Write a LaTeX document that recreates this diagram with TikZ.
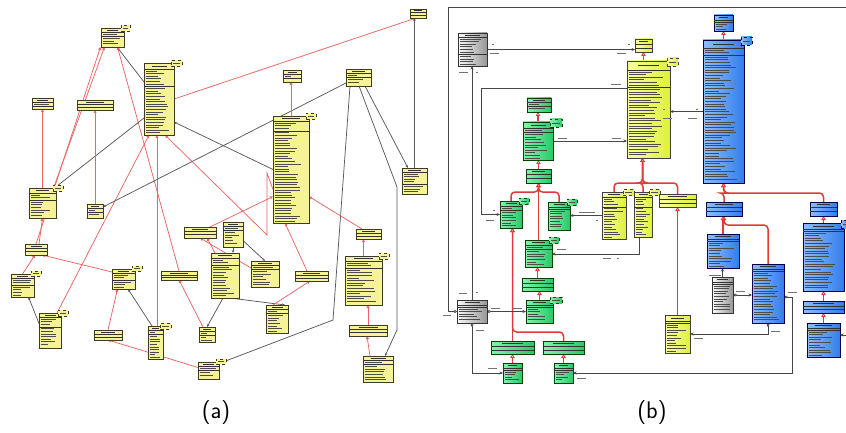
\documentclass[tikz,border=0pt]{standalone}
\usetikzlibrary{arrows.meta,calc}
\pgfdeclarelayer{back}
\pgfdeclarelayer{lines}
\pgfsetlayers{back,lines,main}
\definecolor{ayel}{RGB}{246,242,150}
\definecolor{aedge}{RGB}{60,60,35}
\definecolor{ared}{RGB}{236,100,100}
\definecolor{agray}{RGB}{90,90,90}
\definecolor{bred}{RGB}{226,58,58}
\definecolor{bgray}{RGB}{70,70,70}
\definecolor{yel1}{RGB}{250,255,160}
\definecolor{yel2}{RGB}{222,240,60}
\definecolor{grn1}{RGB}{130,245,170}
\definecolor{grn2}{RGB}{40,200,105}
\definecolor{blu1}{RGB}{140,190,255}
\definecolor{blu2}{RGB}{50,125,235}
\definecolor{gry1}{RGB}{250,250,250}
\definecolor{gry2}{RGB}{150,150,150}
\tikzset{
 cbox/.style={draw, inner sep=0pt, outer sep=0pt, line width=0.8pt},
 ya/.style={fill=ayel, draw=aedge},
 yb/.style={left color=yel1, right color=yel2, draw=black!75},
 gb/.style={left color=grn1, right color=grn2, draw=black!75!green},
 bb/.style={left color=blu1, right color=blu2, draw=black!70!blue},
 kb/.style={left color=gry1, right color=gry2, draw=black!80},
 sepl/.style={line width=0.5pt, draw=black!80},
 txt/.style={line width=0.6pt, draw=black!70},
 hdr/.style={line width=0.9pt, draw=black!80},
 lblm/.style={line width=0.6pt, draw=black!55},
 ar/.style={draw=ared, line width=0.75pt, -{Triangle[open,length=3pt,width=3pt]}},
 ag/.style={draw=agray, line width=0.75pt, -{Stealth[length=3pt,width=2.4pt]}},
 br/.style={draw=bred, line width=1.5pt, rounded corners=4pt, -{Triangle[open,length=4pt,width=4.5pt,line width=0.8pt]}},
 bgr/.style={draw=bgray, line width=0.7pt, -{Stealth[length=3.5pt,width=3pt]}},
 dia/.style={draw=bgray, line width=0.7pt, {Diamond[open,length=4pt,width=3pt]}-{Stealth[length=3.5pt,width=3pt]}}
}
\newcommand\cls[8]{%
 \node[cbox,#2,minimum width=#5pt,minimum height=#6pt,anchor=north west] (#1) at (#3,#4) {};
 \ifnum#8<0 \pgfmathsetmacro\clae{#7+(#6-#7)/2}\else\pgfmathsetmacro\clae{#7+#8*2.6+2}\fi
 \draw[sepl] ($(#1.north west)+(0,#7)$) -- ($(#1.north east)+(0,#7)$);
 \draw[sepl] ($(#1.north west)+(0,\clae)$) -- ($(#1.north east)+(0,\clae)$);
 \draw[hdr] ($(#1.north)+(-#5*0.25,#7*0.5)$) -- ++(#5*0.5,0);
 \ifnum#8>0
  \foreach \k in {1,...,#8}{\pgfmathsetmacro\clL{#5*(0.35+0.45*rnd)}\draw[txt] ($(#1.north west)+(1.5,#7+\k*2.6-0.7)$) -- ++(\clL,0);}
 \fi
 \ifnum#8<0 \else
  \pgfmathtruncatemacro\clno{(#6-\clae-1)/2.6}%
  \ifnum\clno>0
   \foreach \k in {1,...,\clno}{\pgfmathsetmacro\clL{#5*(0.35+0.45*rnd)}\draw[txt] ($(#1.north west)+(1.5,\clae+\k*2.6-0.7)$) -- ++(\clL,0);}
  \fi
 \fi
}
\newcommand\tabx[4]{%
 \node[cbox,#2,dashed,line width=0.5pt,minimum width=#3pt,minimum height=#4pt,anchor=north west] (#1t) at ($(#1.north east)+(-3,-3)$) {};
 \draw[txt,line width=0.4pt] ($(#1t.center)+(-#3*0.3,0)$) -- ++(#3*0.6,0);
}
\newcommand\lbl[3]{\draw[lblm] (#1,#2) -- ++(#3,0);}
\begin{document}
\begin{tikzpicture}[x=1pt,y=-1pt]
\pgfmathsetseed{11}
\useasboundingbox (0,0) rectangle (846,433);
\begin{pgfonlayer}{back}\fill[white] (0,0) rectangle (846,433);\end{pgfonlayer}
% ---------------- (a) ----------------
\cls{a1}{ya}{410}{9}{16}{9}{3}{-1}
\cls{a2}{ya}{101}{28}{23}{19}{4}{1} \tabx{a2}{ya}{9}{6}
\cls{a3}{ya}{144}{63}{30}{72}{6}{6} \tabx{a3}{ya}{11}{6}
\cls{a4}{ya}{283}{70}{18}{12}{4}{1}
\cls{a5}{ya}{346}{69}{25}{17}{4}{1}
\cls{a6}{ya}{32}{98}{21}{11}{4}{1}
\cls{a7}{ya}{77}{100}{36}{10}{4}{-1}
\cls{a8}{ya}{273}{116}{36}{107}{5}{3} \tabx{a8}{ya}{10}{6}
\cls{a9}{ya}{402}{168}{25}{26}{4}{4}
\cls{a10}{ya}{29}{188}{27}{30}{5}{2} \tabx{a10}{ya}{10}{6}
\cls{a11}{ya}{87}{204}{16}{14}{4}{1}
\cls{a12}{ya}{184}{227}{32}{11}{4}{-1}
\cls{a13}{ya}{223}{222}{20}{25}{4}{1}
\cls{a14}{ya}{25}{244}{22}{11}{4}{-1}
\cls{a15}{ya}{211}{253}{28}{45}{5}{2}
\cls{a16}{ya}{251}{261}{28}{26}{4}{1}
\cls{a17}{ya}{356}{229}{25}{10}{4}{-1}
\cls{a18}{ya}{345}{256}{37}{49}{5}{2} \tabx{a18}{ya}{10}{6}
\cls{a19}{ya}{11}{274}{23}{23}{4}{2} \tabx{a19}{ya}{10}{5}
\cls{a20}{ya}{112}{269}{23}{20}{4}{2} \tabx{a20}{ya}{10}{5}
\cls{a21}{ya}{161}{271}{36}{9}{4}{-1}
\cls{a22}{ya}{295}{271}{33}{10}{4}{-1}
\cls{a23}{ya}{266}{305}{22}{28}{4}{1}
\cls{a24}{ya}{39}{313}{22}{35}{4}{3} \tabx{a24}{ya}{10}{6}
\cls{a25}{ya}{94}{330}{28}{10}{4}{-1}
\cls{a26}{ya}{148}{326}{15}{33}{4}{1} \tabx{a26}{ya}{11}{6}
\cls{a27}{ya}{199}{327}{16}{15}{4}{1}
\cls{a28}{ya}{349}{325}{38}{11}{4}{-1}
\cls{a29}{ya}{363}{356}{30}{26}{4}{1}
\cls{a30}{ya}{198}{362}{21}{17}{4}{1} \tabx{a30}{ya}{10}{5}
\coordinate (za) at (267,173);
\coordinate (zb) at (267,235);
\coordinate (zc) at (333,320);
\coordinate (zd) at (397,187);
\coordinate (ze) at (397,330);
\begin{pgfonlayer}{lines}
\draw[ar] (a3.east) -- ([xshift=-2pt]a1.south);
\draw[ag] (a9.north) -- (a9.north |- a1.south);
\draw[ag] ([yshift=17pt]a3.west) -- ([xshift=4.5pt]a2.south);
\draw[ar] (a14.north) -- ([xshift=-12pt]a2.south);
\draw[ar] ([xshift=11pt]a10.north) -- ([xshift=-8pt]a2.south);
\draw[ar] (a21.north) -- ([xshift=5pt]a2.south);
\draw[ar] ([xshift=7pt]a24.north) -- ([xshift=-10pt]a3.south);
\draw[ar] ([xshift=1.5pt]a26.north) -- ([xshift=-2pt]a3.south);
\draw[ar] ([yshift=-20pt]a8.west) -- (za) -- (zb) -- ([xshift=6pt]a3.south);
\draw[ag] (a8.west) -- ([yshift=-23pt]a3.east);
\draw[ag] ([yshift=-5.5pt]a5.west) -- ([yshift=4pt]a11.east);
\draw[ag] ([yshift=-19pt]a3.west) -- ([xshift=12pt]a10.north);
\draw[ar] (a8.north) -- (a8.north |- a4.south);
\draw[ag] ([xshift=-8.5pt]a5.south) -- (zc) -- ([yshift=7pt]a30.east);
\draw[ag] ([xshift=0.5pt]a5.south) -- (zd) -- (ze) -- ([xshift=7pt]a29.north);
\draw[ag] ([xshift=6.5pt]a5.south) -- ([xshift=-6.5pt]a9.north);
\draw[ar] (a10.north) -- (a10.north |- a6.south);
\draw[ar] (a11.north) -- (a11.north |- a7.south);
\draw[ar] ([xshift=3pt]a14.north) -- (a10.south);
\draw[ar] (a19.north) -- ([xshift=-1pt]a14.south);
\draw[ag] ([yshift=7pt]a24.west) -- ([xshift=6pt]a19.south);
\draw[ar] ([yshift=7pt]a20.west) -- ([xshift=6pt]a14.south);
\draw[ar] (a25.north) -- ([xshift=-6pt]a20.south);
\draw[ag] ([xshift=-3.5pt]a26.north) -- ([xshift=4.5pt]a20.south);
\draw[ar] ([yshift=3pt]a30.west) -- (a25.south);
\draw[ar] ([xshift=-4pt]a27.north) -- (a21.south);
\draw[ag] ([xshift=-2pt]a15.south) -- (a27.north);
\draw[ag] ([xshift=5pt]a15.south) -- ([xshift=8pt]a23.north);
\draw[ar] ([xshift=-4pt]a23.north) -- ([xshift=-1.5pt]a22.south);
\draw[ag] (a13.south) -- (a13.south |- a15.north);
\draw[ag] ([yshift=-6pt]a13.east) -- (a16.north);
\draw[ar] ([yshift=6pt]a16.west) -- (a12.south);
\draw[ar] ([xshift=-10pt]a15.north) -- ([xshift=7pt]a12.south);
\draw[ar] ([xshift=10pt]a12.north) -- ([yshift=-27pt]a8.west);
\draw[ar] ([xshift=-4.5pt]a22.north) -- ([xshift=-6pt]a8.south);
\draw[ar] ([xshift=-6.5pt]a17.north) -- ([yshift=-27pt]a8.east);
\draw[ar] (a18.north) -- (a18.north |- a17.south);
\draw[ar] (a28.north) -- (a28.north |- a18.south);
\draw[ar] ([xshift=-8pt]a29.north) -- ([xshift=-1pt]a28.south);
\end{pgfonlayer}
% ---------------- (b) ----------------
\cls{b1}{kb}{458}{33}{29}{33}{4}{6}
\cls{b2}{yb}{635}{39}{17}{13}{5}{-1}
\cls{b3}{yb}{627}{61}{43}{97}{9}{6} \tabx{b3}{yb}{11}{8}
\cls{b4}{bb}{714}{15}{19}{16}{5}{0}
\cls{b5}{bb}{703}{40}{41}{143}{8}{2} \tabx{b5}{bb}{11}{8}
\cls{b6}{gb}{527}{98}{24}{14}{4}{1}
\cls{b7}{gb}{523}{122}{30}{38}{6}{1} \tabx{b7}{gb}{12}{8}
\cls{b8}{gb}{526}{169}{25}{14}{5}{-1}
\cls{b9}{gb}{500}{201}{22}{27}{5}{1} \tabx{b9}{gb}{10}{6}
\cls{b10}{gb}{548}{202}{22}{28}{5}{0} \tabx{b10}{gb}{10}{6}
\cls{b11}{yb}{602}{192}{24}{47}{5}{3} \tabx{b11}{yb}{11}{6}
\cls{b12}{yb}{634}{192}{18}{45}{5}{3} \tabx{b12}{yb}{11}{6}
\cls{b13}{yb}{659}{194}{37}{13}{5}{-1}
\cls{b14}{gb}{525}{240}{27}{27}{5}{1} \tabx{b14}{gb}{10}{6}
\cls{b15}{gb}{522}{278}{31}{13}{5}{-1}
\cls{b16}{gb}{526}{300}{27}{23}{5}{0} \tabx{b16}{gb}{12}{6}
\cls{b17}{kb}{457}{300}{30}{23}{5}{0}
\cls{b18}{gb}{491}{341}{43}{13}{5}{-1}
\cls{b19}{gb}{543}{341}{41}{13}{5}{-1}
\cls{b20}{gb}{503}{363}{19}{20}{5}{0}
\cls{b21}{gb}{554}{363}{19}{20}{5}{0}
\cls{b22}{yb}{665}{315}{25}{38}{6}{0}
\cls{b23}{bb}{706}{202}{36}{14}{5}{-1}
\cls{b24}{bb}{810}{202}{27}{14}{5}{-1}
\cls{b25}{bb}{707}{234}{32}{34}{5}{0}
\cls{b26}{kb}{712}{277}{21}{36}{5}{0}
\cls{b27}{bb}{752}{264}{32}{59}{5}{0}
\cls{b28}{bb}{803}{223}{41}{68}{6}{0} \tabx{b28}{bb}{8}{8}
\cls{b29}{bb}{803}{301}{41}{12}{5}{-1}
\cls{b30}{bb}{807}{323}{33}{34}{5}{0}
\coordinate (j3) at ($(b3.south)+(-6,25)$);
\coordinate (j5) at ($(b5.south)+(0,10)$);
\coordinate (j23) at ($(b23.south)+(0,9)$);
\coordinate (j8) at ($(b8.south)+(0,9)$);
\coordinate (j9) at ($(b18.north)+(0,-9)$);
\coordinate (fr1) at (448,7);
\coordinate (fr2) at (852,7);
\begin{pgfonlayer}{lines}
\draw[bgr] (b1.east) -- (b1.east -| b2.west);
\draw[br] (b2.north |- b3.north) -- (b2.south);
\draw[br] (b5.north) -- (b5.north |- b4.south);
\draw[bgr] (b5.west) -- (b5.west -| b3.east);
\draw[bgr] ([yshift=21.5pt]b3.west) -| ($(b9.west)+(-19,0)$) -- (b9.west);
\draw[bgr] (b17.north) -- (b17.north |- b1.south);
\draw[br] (b7.north) -- (b7.north |- b6.south);
\draw[bgr] (b7.east) -- (b7.east -| b3.west);
\draw[br] (b8.north) -- (b8.north |- b7.south);
\draw[br] (b14.north) -- (b14.north |- b8.south);
\draw[br] (b9.north) |- (j8) -- (b8.south);
\draw[br] (b10.north) |- (j8) -- (b8.south);
\draw[bgr] (b11.west) -- (b11.west -| b10.east);
\draw[bgr] ([xshift=-4pt]b12.south) |- ([yshift=-0.5pt]b14.east);
\draw[br] (b11.north) |- (j3) -- ([xshift=-6pt]b3.south);
\draw[br] (b12.north) |- (j3) -- ([xshift=-6pt]b3.south);
\draw[br] (b13.north) |- (j3) -- ([xshift=-6pt]b3.south);
\draw[br] (b23.north) |- (j5) -- (b5.south);
\draw[br] (b24.north) |- (j5) -- (b5.south);
\draw[br] (b25.north) -- (b25.north |- b23.south);
\draw[br] (b27.north) |- (j23) -- (b23.south);
\draw[br] (b22.north) -- (b22.north |- b13.south);
\draw[br] (b18.north) -- (b18.north |- b9.south);
\draw[br] (b19.north) |- (j9) -- (b18.north |- b9.south);
\draw[br] (b15.north) -- (b15.north |- b14.south);
\draw[br] (b16.north) -- (b16.north |- b15.south);
\draw[dia] (b17.east) -- (b16.west);
\draw[dia] (b17.south) |- (b20.west);
\draw[dia] (b17.west) -| (fr1) -- (fr2) |- ([yshift=5pt]b30.east);
\draw[br] (b20.north) -- (b20.north |- b18.south);
\draw[br] (b21.north) -- (b21.north |- b19.south);
\draw[dia] ([yshift=-3.5pt]b27.east) -- ++(8,0) |- (b21.east);
\draw[bgr] (b26.north) -- (b26.north |- b25.south);
\draw[dia] (b26.east) -- (b26.east -| b27.west);
\draw[dia] (b27.south) |- (b22.east);
\draw[br] (b28.north) -- (b28.north |- b24.south);
\draw[br] (b29.north) -- (b29.north |- b28.south);
\draw[br] (b30.north) -- (b30.north |- b29.south);
\end{pgfonlayer}
% small connector labels
\lbl{490}{53}{9}\lbl{492}{44}{2}\lbl{617}{53}{9}\lbl{628}{44}{2}
\lbl{459}{72}{9}\lbl{476}{72}{2}\lbl{611}{84}{10}
\lbl{663}{118}{9}\lbl{688}{118}{9}\lbl{663}{109}{2}\lbl{696}{109}{2}
\lbl{558}{138}{9}\lbl{612}{138}{9}
\lbl{486}{220}{8}\lbl{493}{210}{2}\lbl{579}{212}{16}\lbl{596}{220}{2}
\lbl{557}{249}{9}\lbl{603}{258}{8}\lbl{617}{258}{2}
\lbl{459}{293}{8}\lbl{476}{292}{2}\lbl{443}{315}{8}\lbl{476}{330}{8}
\lbl{491}{308}{9}\lbl{513}{308}{9}\lbl{488}{368}{9}\lbl{577}{378}{9}
\lbl{709}{275}{12}\lbl{736}{291}{9}\lbl{788}{292}{9}\lbl{694}{338}{9}\lbl{771}{331}{9}
% panel captions
\node[font=\sffamily\fontsize{24}{28}\selectfont] (capa) at (216,413) {(a)};
\node[font=\sffamily\fontsize{24}{28}\selectfont] (capb) at (652,413) {(b)};
\end{tikzpicture}
\end{document}
